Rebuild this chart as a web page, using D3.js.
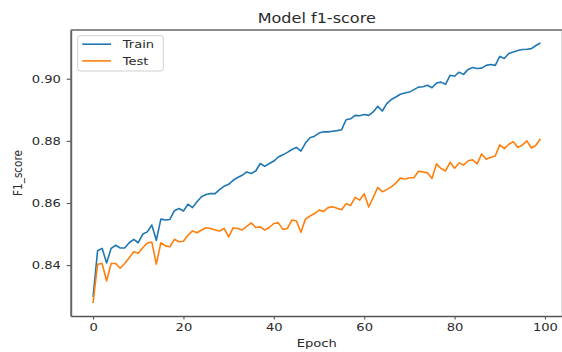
<!DOCTYPE html>
<html>
<head>
<meta charset="utf-8">
<script src="https://cdn.jsdelivr.net/npm/d3@7"></script>
<style>
  html, body { margin: 0; padding: 0; background: #fff; }
  svg { display: block; font-family: "DejaVu Sans", sans-serif; }
</style>
</head>
<body>
<svg id="chart" width="562" height="352"></svg>
<script>
// Per-epoch F1 scores for the training and test sets
const epochs = d3.range(0, 100);
const trainF1 = [
  0.8298, 0.8446, 0.8454, 0.8407, 0.8454, 0.8464, 0.8455, 0.8455, 0.8472, 0.8483,
  0.8472, 0.8500, 0.8507, 0.8529, 0.8480, 0.8548, 0.8545, 0.8547, 0.8575, 0.8582,
  0.8574, 0.8596, 0.8585, 0.8604, 0.8620, 0.8627, 0.8630, 0.8630, 0.8643, 0.8654,
  0.8660, 0.8673, 0.8682, 0.8689, 0.8700, 0.8695, 0.8703, 0.8727, 0.8718, 0.8727,
  0.8735, 0.8748, 0.8755, 0.8763, 0.8772, 0.8779, 0.8767, 0.8793, 0.8810, 0.8815,
  0.8825, 0.8829, 0.8829, 0.8831, 0.8833, 0.8836, 0.8868, 0.8871, 0.8882, 0.8881,
  0.8885, 0.8882, 0.8893, 0.8911, 0.8896, 0.8920, 0.8933, 0.8941, 0.8950, 0.8954,
  0.8957, 0.8965, 0.8973, 0.8974, 0.8979, 0.8971, 0.8986, 0.8989, 0.8982, 0.9011,
  0.9008, 0.9021, 0.9014, 0.9030, 0.9036, 0.9033, 0.9034, 0.9043, 0.9046, 0.9043,
  0.9072, 0.9065, 0.9081, 0.9086, 0.9091, 0.9094, 0.9095, 0.9097, 0.9107, 0.9115
];
const testF1 = [
  0.8278, 0.8403, 0.8405, 0.8349, 0.8405, 0.8405, 0.8390, 0.8405, 0.8424, 0.8443,
  0.8438, 0.8456, 0.8471, 0.8474, 0.8403, 0.8472, 0.8462, 0.8459, 0.8483, 0.8475,
  0.8477, 0.8496, 0.8510, 0.8504, 0.8513, 0.8520, 0.8518, 0.8513, 0.8510, 0.8518,
  0.8491, 0.8520, 0.8518, 0.8513, 0.8525, 0.8536, 0.8521, 0.8523, 0.8513, 0.8521,
  0.8534, 0.8536, 0.8515, 0.8518, 0.8545, 0.8542, 0.8506, 0.8548, 0.8558, 0.8566,
  0.8577, 0.8573, 0.8585, 0.8588, 0.8583, 0.8578, 0.8598, 0.8592, 0.8618, 0.8609,
  0.8630, 0.8587, 0.8618, 0.8650, 0.8636, 0.8643, 0.8652, 0.8664, 0.8680, 0.8677,
  0.8681, 0.8681, 0.8702, 0.8700, 0.8697, 0.8679, 0.8726, 0.8711, 0.8703, 0.8731,
  0.8712, 0.8729, 0.8722, 0.8736, 0.8739, 0.8726, 0.8758, 0.8741, 0.8747, 0.8751,
  0.8787, 0.8775, 0.8789, 0.8797, 0.8779, 0.8786, 0.8800, 0.8777, 0.8786, 0.8807
];
const xTicks = [0, 20, 40, 60, 80, 100];
const yTicks = [0.84, 0.86, 0.88, 0.90];
const seriesNames = ["Train", "Test"];
const seriesColors = ["#1f77b4", "#ff7f0e"];

const svg = d3.select("#chart");
const plot = { left: 70.7, top: 30, right: 562.8, bottom: 316 };
// Text is drawn slightly wide
const textStretch = 1.19;

// Axis limits padded by 5% of the data span on each side
const xPad = (d3.max(epochs) - d3.min(epochs)) * 0.05;
const allY = trainF1.concat(testF1);
const yPad = (d3.max(allY) - d3.min(allY)) * 0.05;

const x = d3.scaleLinear()
  .domain([d3.min(epochs) - xPad, d3.max(epochs) + xPad])
  .range([plot.left, plot.right]);
const y = d3.scaleLinear()
  .domain([d3.min(allY) - yPad, d3.max(allY) + yPad])
  .range([plot.bottom, plot.top]);

const spineColor = "#555";
const textColor = "#2b2b2b";

// Lines
const line = d3.line().x((d, i) => x(epochs[i])).y(d => y(d));
[trainF1, testF1].forEach((vals, k) => {
  svg.append("path")
    .datum(vals)
    .attr("fill", "none")
    .attr("stroke", seriesColors[k])
    .attr("stroke-width", 1.6)
    .attr("stroke-linejoin", "round")
    .attr("d", line);
});

// Axes
const xAxis = svg.append("g")
  .attr("transform", `translate(0,${plot.bottom})`)
  .call(d3.axisBottom(x).tickValues(xTicks).tickFormat(d3.format("d"))
    .tickSize(3.5).tickPadding(3.5).tickSizeOuter(0));
const yAxis = svg.append("g")
  .attr("transform", `translate(${plot.left},0)`)
  .call(d3.axisLeft(y).tickValues(yTicks).tickFormat(d3.format(".2f"))
    .tickSize(4).tickPadding(4.2).tickSizeOuter(0));

xAxis.select(".domain").attr("stroke", spineColor).attr("stroke-width", 1.4);
yAxis.select(".domain").attr("stroke", "#666").attr("stroke-width", 2);
[xAxis, yAxis].forEach(g => {
  g.selectAll(".tick line").attr("stroke", spineColor).attr("stroke-width", 1.1);
  g.selectAll(".tick text")
    .attr("fill", textColor)
    .attr("transform", `scale(${textStretch},1)`)
    .style("font-family", "DejaVu Sans")
    .style("font-size", "11px");
});

// Top and right spines
svg.append("line")
  .attr("x1", plot.left).attr("x2", plot.right)
  .attr("y1", plot.top).attr("y2", plot.top)
  .attr("stroke", "#666").attr("stroke-width", 1.4);
svg.append("line")
  .attr("x1", plot.right).attr("x2", plot.right)
  .attr("y1", plot.top).attr("y2", plot.bottom)
  .attr("stroke", "#666").attr("stroke-width", 2);

// Title and axis labels
const cx = (plot.left + plot.right) / 2;
function label(tx, ty, str, size, rot) {
  return svg.append("text")
    .attr("transform", `translate(${tx},${ty}) scale(${textStretch},1)` + (rot ? ` rotate(${rot})` : ""))
    .attr("text-anchor", "middle")
    .attr("fill", textColor)
    .style("font-size", size)
    .text(str);
}
label(cx, 23, "Model f1-score", "13.5px");
label(cx, 347, "Epoch", "11px");
label(22, (plot.top + plot.bottom) / 2, "F1_score", "10.5px", -90);

// Legend
const legend = svg.append("g").attr("transform", "translate(77.7,35.7)");
legend.append("rect")
  .attr("width", 85.6).attr("height", 35.3)
  .attr("rx", 2.5).attr("ry", 2.5)
  .attr("fill", "#fff").attr("fill-opacity", 0.8)
  .attr("stroke", "#d0d0d0").attr("stroke-width", 1);
seriesNames.forEach((name, k) => {
  const ly = 8.5 + k * 16.7;
  legend.append("line")
    .attr("x1", 4.6).attr("x2", 33.3)
    .attr("y1", ly).attr("y2", ly)
    .attr("stroke", seriesColors[k]).attr("stroke-width", 1.6);
  legend.append("text")
    .attr("transform", `translate(45,${ly + 4}) scale(${textStretch},1)`)
    .attr("fill", textColor)
    .style("font-size", "11px")
    .text(name);
});
</script>
</body>
</html>
